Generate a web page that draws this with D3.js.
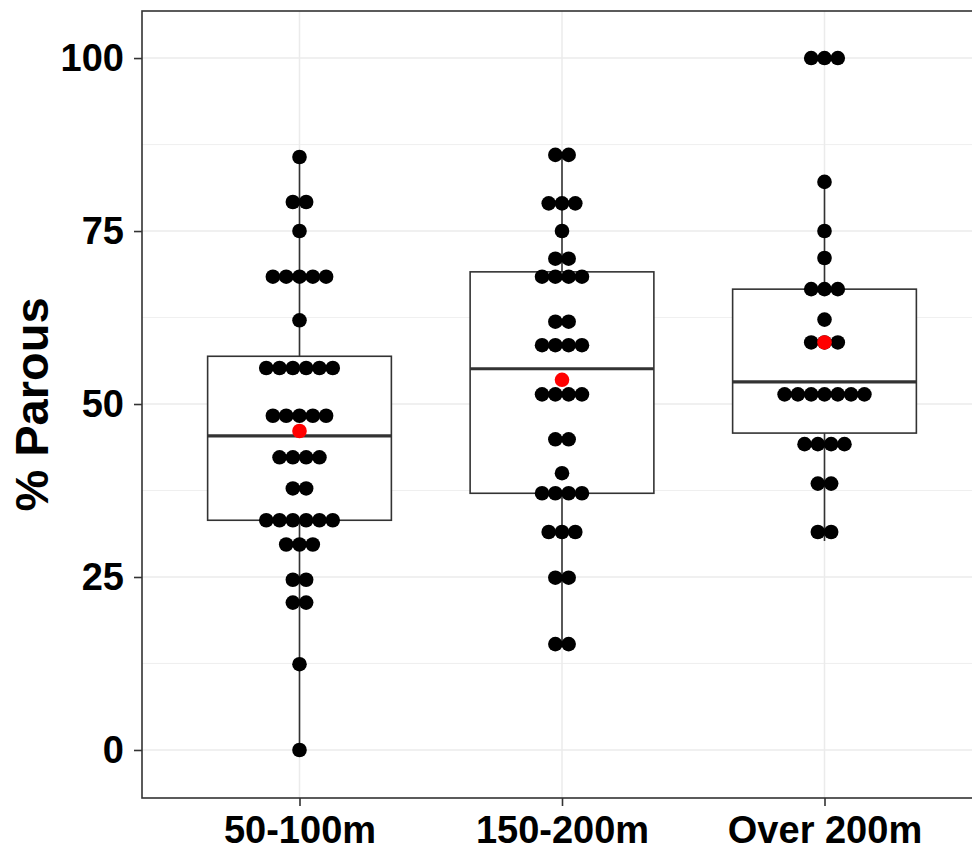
<!DOCTYPE html>
<html>
<head>
<meta charset="utf-8">
<script src="https://cdnjs.cloudflare.com/ajax/libs/d3/7.8.5/d3.min.js"></script>
<style>
  body { margin: 0; background: #fff; }
  svg { display: block; }
  .tick text { font-family: "Liberation Sans", Arial, sans-serif; font-weight: bold; fill: #000; }
</style>
</head>
<body>
<div id="chart-area"></div>
<script>
// categories and the dot values (binned)
var categories = ["50-100m", "150-200m", "Over 200m"]

var parous50to100 = [0, 12.4, 21.3, 21.3, 24.6, 24.6, 29.7, 29.7, 29.7,
  33.2, 33.2, 33.2, 33.2, 33.2, 33.2, 37.8, 37.8, 42.3, 42.3, 42.3, 42.3,
  48.3, 48.3, 48.3, 48.3, 48.3, 55.2, 55.2, 55.2, 55.2, 55.2, 55.2,
  62.1, 68.4, 68.4, 68.4, 68.4, 68.4, 75, 79.2, 79.2, 85.7]

var parous150to200 = [15.3, 15.3, 24.9, 24.9, 31.5, 31.5, 31.5,
  37.1, 37.1, 37.1, 37.1, 40, 44.9, 44.9, 51.4, 51.4, 51.4, 51.4,
  58.5, 58.5, 58.5, 58.5, 61.9, 61.9, 68.4, 68.4, 68.4, 68.4,
  71, 71, 75, 79, 79, 79, 86, 86]

var parousOver200 = [31.5, 31.5, 38.5, 38.5, 44.2, 44.2, 44.2, 44.2,
  51.4, 51.4, 51.4, 51.4, 51.4, 51.4, 51.4, 58.9, 58.9, 58.9, 62.2,
  66.6, 66.6, 66.6, 71.1, 75, 82.1, 100, 100, 100]

// box statistics and means as drawn
var q1 = [33.2, 37.1, 45.8]
var medians = [45.4, 55.1, 53.2]
var q3 = [56.9, 69.1, 66.6]
var whiskerLow = [0, 15.3, 30.2]
var whiskerHigh = [85.7, 86.0, 82.1]
var means = [46.1, 53.5, 58.9]

var yTicks = [0, 25, 50, 75, 100]
var yMinor = [12.5, 37.5, 62.5, 87.5]

var groups = [parous50to100, parous150to200, parousOver200]

var margin = {left: 142, right: 0, top: 11, bottom: 54}
var width = 840
var height = 852 - margin.top - margin.bottom

var svg = d3.select("#chart-area").append("svg")
  .attr("width", 972)
  .attr("height", 852)

var g = svg.append("g")
  .attr("transform", "translate(" + margin.left + "," + margin.top + ")")

var x = d3.scalePoint()
  .domain(categories)
  .range([0, width])
  .padding(0.6)

var y = d3.scaleLinear()
  .domain([-6.94, 106.8])
  .range([height, 0])

var step = x.step()
var boxW = step * 0.7
var dotR = 7.3
var dotGap = 13.3

// grid
g.selectAll(".minor").data(yMinor).enter().append("line")
  .attr("x1", 0).attr("x2", width)
  .attr("y1", d => y(d)).attr("y2", d => y(d))
  .attr("stroke", "#ebebeb").attr("stroke-width", 0.8)
g.selectAll(".major").data(yTicks).enter().append("line")
  .attr("x1", 0).attr("x2", width)
  .attr("y1", d => y(d)).attr("y2", d => y(d))
  .attr("stroke", "#ebebeb").attr("stroke-width", 1.5)
g.selectAll(".vgrid").data(categories).enter().append("line")
  .attr("x1", d => x(d)).attr("x2", d => x(d))
  .attr("y1", 0).attr("y2", height)
  .attr("stroke", "#ebebeb").attr("stroke-width", 1.5)

// boxplots
categories.forEach(function(c, i) {
  var cx = x(c)
  g.append("line")
    .attr("x1", cx).attr("x2", cx)
    .attr("y1", y(whiskerHigh[i])).attr("y2", y(q3[i]))
    .attr("stroke", "#333").attr("stroke-width", 1.6)
  g.append("line")
    .attr("x1", cx).attr("x2", cx)
    .attr("y1", y(q1[i])).attr("y2", y(whiskerLow[i]))
    .attr("stroke", "#333").attr("stroke-width", 1.6)
  g.append("rect")
    .attr("x", cx - boxW / 2)
    .attr("y", y(q3[i]))
    .attr("width", boxW)
    .attr("height", y(q1[i]) - y(q3[i]))
    .attr("fill", "#fff")
    .attr("stroke", "#333").attr("stroke-width", 1.6)
  g.append("line")
    .attr("x1", cx - boxW / 2).attr("x2", cx + boxW / 2)
    .attr("y1", y(medians[i])).attr("y2", y(medians[i]))
    .attr("stroke", "#333").attr("stroke-width", 3.2)
})

// dots, stacked centred on each category
categories.forEach(function(c, i) {
  var rows = d3.groups(groups[i], d => d)
  rows.forEach(function(row) {
    var n = row[1].length
    var pts = d3.range(n).map(k => (k - (n - 1) / 2) * dotGap)
    g.selectAll(null).data(pts).enter().append("circle")
      .attr("cx", d => x(c) + d)
      .attr("cy", y(row[0]))
      .attr("r", dotR)
      .attr("fill", "#000")
  })
})

// means
g.selectAll(".mean").data(categories).enter().append("circle")
  .attr("cx", d => x(d))
  .attr("cy", (d, i) => y(means[i]))
  .attr("r", dotR)
  .attr("fill", "#ff0000")

// panel border
g.append("rect")
  .attr("width", width).attr("height", height)
  .attr("fill", "none")
  .attr("stroke", "#333").attr("stroke-width", 1.6)

// axes
var yAxisCall = d3.axisLeft(y).tickValues(yTicks).tickSize(8).tickPadding(10)
var yAxis = g.append("g").call(yAxisCall)
yAxis.select(".domain").remove()
yAxis.selectAll("line").attr("stroke", "#333").attr("stroke-width", 1.6)
yAxis.selectAll("text").attr("font-size", 38)

var xAxisCall = d3.axisBottom(x).tickSize(8).tickPadding(10)
var xAxis = g.append("g")
  .attr("transform", "translate(0," + height + ")")
  .call(xAxisCall)
xAxis.select(".domain").remove()
xAxis.selectAll("line").attr("stroke", "#333").attr("stroke-width", 1.6)
xAxis.selectAll("text").attr("font-size", 38)

// y title
svg.append("text")
  .attr("transform", "translate(48," + (margin.top + height / 2) + ") rotate(-90)")
  .attr("text-anchor", "middle")
  .attr("font-family", "Liberation Sans, Arial, sans-serif")
  .attr("font-weight", "bold")
  .attr("font-size", 47)
  .attr("fill", "#000")
  .text("% Parous")
</script>
</body>
</html>
